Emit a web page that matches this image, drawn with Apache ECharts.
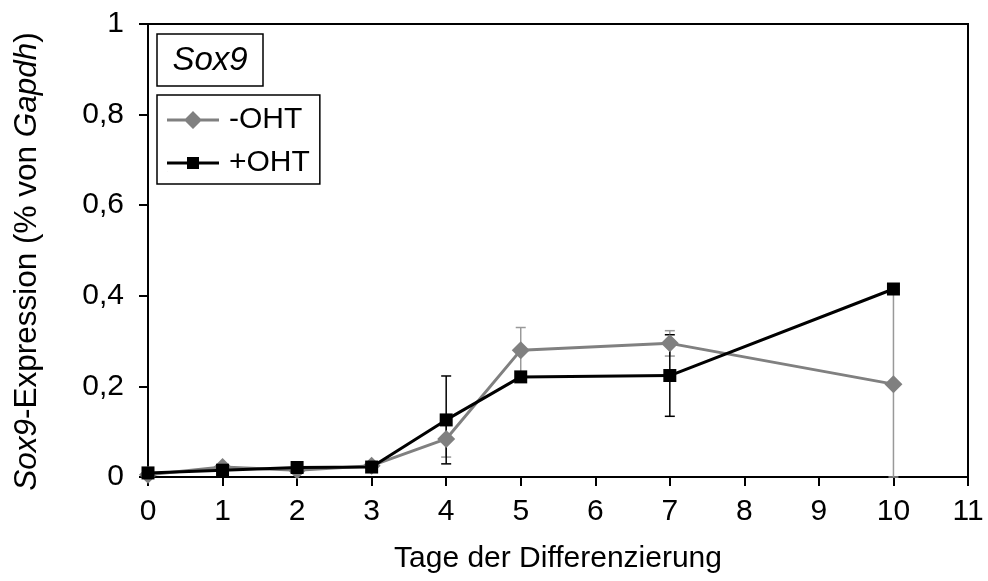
<!DOCTYPE html>
<html><head><meta charset="utf-8">
<script src="https://cdn.jsdelivr.net/npm/echarts@6/dist/echarts.min.js"></script>
<style>html,body{margin:0;padding:0;background:#fff}#c{width:988px;height:581px}</style>
</head><body><div id="c"></div>
<script>
const days = [0, 1, 2, 3, 4, 5, 7, 10];
const minusOHT = [0.005, 0.022, 0.015, 0.025, 0.084, 0.280, 0.295, 0.205];
const minusOHTErr = [0, 0, 0, 0, 0.04, 0.05, 0.028, 0.205];
const plusOHT = [0.009, 0.015, 0.021, 0.022, 0.126, 0.221, 0.224, 0.415];
const plusOHTErr = [0, 0, 0, 0, 0.097, 0.004, 0.09, 0];
const xTicks = [0,1,2,3,4,5,6,7,8,9,10,11];
const yTicks = ['0','0,2','0,4','0,6','0,8','1'];

const FONT = '"Liberation Sans", Arial, sans-serif';
const FS = 30;
const GRAY = '#808080';

function errSeries(name, vals, errs, color, z) {
  return {
    type: 'custom', name: name + 'err', z: z, silent: true,
    data: days.map((d, i) => [d, vals[i], errs[i]]),
    renderItem: function (params, api) {
      const x = api.value(0), v = api.value(1), e = api.value(2);
      if (!e) return null;
      const top = api.coord([x, v + e]);
      const bot = api.coord([x, Math.max(0, v - e)]);
      const hw = 5;
      const st = { stroke: color, lineWidth: 1.5 };
      return { type: 'group', children: [
        { type: 'line', shape: { x1: top[0], y1: top[1], x2: bot[0], y2: bot[1] }, style: st },
        { type: 'line', shape: { x1: top[0]-hw, y1: top[1], x2: top[0]+hw, y2: top[1] }, style: st },
        { type: 'line', shape: { x1: bot[0]-hw, y1: bot[1], x2: bot[0]+hw, y2: bot[1] }, style: st }
      ]};
    }
  };
}

const iconDiamond = 'path://M0,7.5L52,7.5L52,10.5L0,10.5Z M26,0L35,9L26,18L17,9Z';
const iconSquare = 'path://M0,0L0.2,0L0.2,0.2Z M0,18L0.2,18L0.2,17.8Z M0,7.5L52,7.5L52,10.5L0,10.5Z M20,3L32,3L32,15L20,15Z';

const chart = echarts.init(document.getElementById('c'));
chart.setOption({
  animation: false,
  grid: { left: 148, right: 20, top: 24, bottom: 104, show: true, borderColor: '#000', borderWidth: 2 },
  xAxis: {
    type: 'value', min: 0, max: 11, interval: 1,
    axisLine: { lineStyle: { color: '#000', width: 2 } },
    axisTick: { show: true, length: 9, lineStyle: { color: '#000', width: 2 } },
    splitLine: { show: false },
    axisLabel: { fontFamily: FONT, fontSize: FS, color: '#000', margin: 20,
      formatter: v => xTicks.indexOf(v) >= 0 ? String(v) : '' },
    name: 'Tage der Differenzierung', nameLocation: 'middle', nameGap: 67,
    nameTextStyle: { fontFamily: FONT, fontSize: FS, color: '#000' }
  },
  yAxis: {
    type: 'value', min: 0, max: 1, interval: 0.2,
    axisLine: { show: true, lineStyle: { color: '#000', width: 2 } },
    axisTick: { show: true, length: 9, lineStyle: { color: '#000', width: 2 } },
    splitLine: { show: false },
    axisLabel: { fontFamily: FONT, fontSize: FS, color: '#000', margin: 24,
      formatter: v => yTicks[Math.round(v * 5)] },
    name: '{i|Sox9}-Expression (% von {i|Gapdh})', nameLocation: 'middle', nameGap: 105,
    nameTextStyle: { fontFamily: FONT, fontSize: 31.5, color: '#000', padding: [0, 22, 0, 0],
      rich: { i: { fontFamily: FONT, fontSize: 31.5, fontStyle: 'italic', color: '#000' } } }
  },
  legend: {
    left: 157, top: 95, orient: 'vertical', itemWidth: 52, itemHeight: 18, itemGap: 13,
    padding: [10, 10, 6, 10], borderColor: '#000', borderWidth: 1.5,
    textStyle: { fontFamily: FONT, fontSize: FS, color: '#000', lineHeight: 30, padding: [0, 0, 0, 5] },
    data: [ { name: '-OHT', icon: iconDiamond }, { name: '+OHT', icon: iconSquare } ]
  },
  graphic: [
    { type: 'rect', shape: { x: 157, y: 34, width: 106, height: 52 },
      style: { fill: '#fff', stroke: '#000', lineWidth: 1.5 } },
    { type: 'text', x: 210, y: 61,
      style: { text: 'Sox9', fontFamily: FONT, fontSize: 33, fontStyle: 'italic', fill: '#000', align: 'center', verticalAlign: 'middle' } }
  ],
  series: [
    errSeries('-OHT', minusOHT, minusOHTErr, '#999', 2),
    errSeries('+OHT', plusOHT, plusOHTErr, '#000', 3),
    { type: 'line', name: '-OHT', z: 4, data: days.map((d, i) => [d, minusOHT[i]]),
      symbol: 'diamond', symbolSize: 18, showSymbol: true,
      lineStyle: { color: GRAY, width: 3 }, itemStyle: { color: GRAY } },
    { type: 'line', name: '+OHT', z: 5, data: days.map((d, i) => [d, plusOHT[i]]),
      symbol: 'rect', symbolSize: 13, showSymbol: true,
      lineStyle: { color: '#000', width: 3 }, itemStyle: { color: '#000' } }
  ]
});
</script></body></html>
